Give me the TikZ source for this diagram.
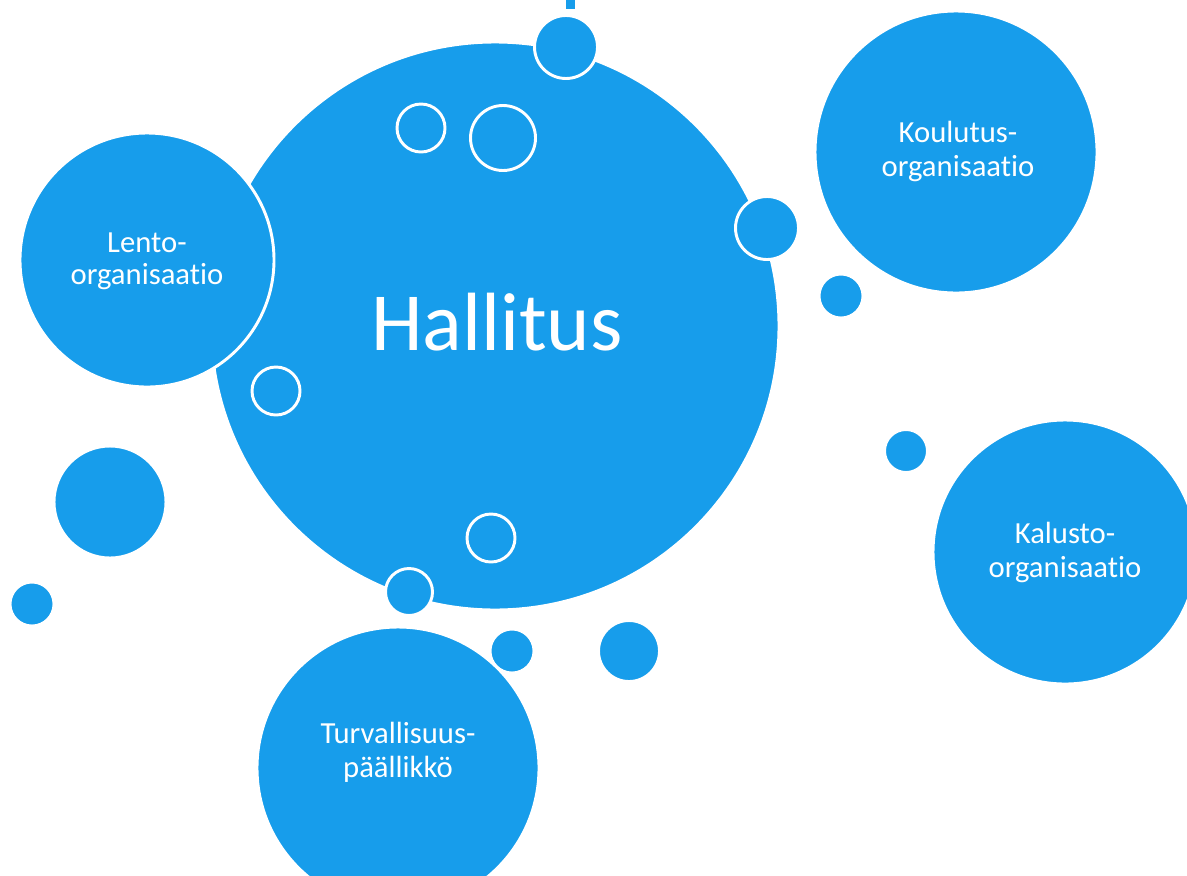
\documentclass[tikz,border=0pt]{standalone}
\usepackage{fontspec}
\setmainfont{Carlito}[RawFeature=-liga]
\definecolor{bub}{RGB}{23,157,235}
\begin{document}
\begin{tikzpicture}[x=0.75pt,y=-0.75pt,
  bubble/.style={circle,fill=bub,draw=white,line width=2.2pt,inner sep=0pt,minimum size=#1},
  lbl/.style={text=white,font=\fontsize{23}{27}\selectfont,anchor=base,inner sep=0pt},
  big/.style={text=white,font=\fontsize{62}{70}\selectfont,anchor=base,inner sep=0pt}]
\useasboundingbox (0,0) rectangle (1187,875);
\fill[white] (0,0) rectangle (1187,875);
% top stub
\fill[bub] (566,0) rectangle (575,9);
% main bubbles
\node[bubble=426pt] (hall) at (495,326) {};
\node[bubble=190.5pt] (lento) at (147,260) {};
\node[bubble=211.5pt] (koul) at (956,152) {};
\node[bubble=198pt] (kal) at (1065,552) {};
\node[bubble=211.5pt] (turv) at (398,768) {};
% texts
\node[big] (thall) at (497,350) {Hallitus};
\node[lbl] (tl1) at (147,252) {Lento-};
\node[lbl] (tl2) at (147,284) {organisaatio};
\node[lbl] (tk1) at (958,142) {Koulutus-};
\node[lbl] (tk2) at (958,176) {organisaatio};
\node[lbl] (ta1) at (1065,543) {Kalusto-};
\node[lbl] (ta2) at (1065,577) {organisaatio};
\node[lbl] (tt1) at (398,743) {Turvallisuus-};
\node[lbl] (tt2) at (398,777) {päällikkö};
% small bubbles
\node[bubble=47.25pt] (s1) at (566,47) {};
\node[bubble=36pt] (s2) at (421,128) {};
\node[bubble=48.75pt] (s3) at (503,138) {};
\node[bubble=47.25pt] (s4) at (767,228) {};
\node[bubble=33pt] (s5) at (841,296) {};
\node[bubble=36pt] (s6) at (276,391) {};
\node[bubble=84pt] (s7) at (110,502) {};
\node[bubble=33pt] (s8) at (32,604) {};
\node[bubble=36pt] (s9) at (491,538) {};
\node[bubble=35.25pt] (s10) at (409,592) {};
\node[bubble=33pt] (s11) at (512,651) {};
\node[bubble=45.75pt] (s12) at (629,651) {};
\node[bubble=32.25pt] (s13) at (906,451) {};
\end{tikzpicture}
\end{document}
